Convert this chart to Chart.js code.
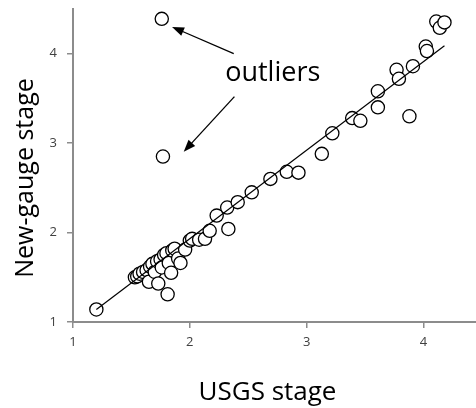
<!DOCTYPE html>
<html>
<head>
<meta charset="utf-8">
<style>
  html, body { margin: 0; padding: 0; background: #fff; }
</style>
<script src="https://cdn.jsdelivr.net/npm/chart.js@4.4.1/dist/chart.umd.min.js"></script>
</head>
<body>
<canvas id="stageChart" width="476" height="408"></canvas>
<script>
// readings: USGS stage vs new gauge stage
const usgsStage = [
  1.20, 1.53, 1.55, 1.57, 1.60, 1.63, 1.65, 1.66, 1.68, 1.70,
  1.72, 1.73, 1.75, 1.76, 1.78, 1.80, 1.81, 1.82, 1.84, 1.85,
  1.87, 1.90, 1.92, 1.96, 2.00, 2.02, 2.08, 2.13, 2.17, 2.23,
  2.32, 2.33, 2.41, 2.53, 2.69, 2.83, 2.93, 3.13, 3.22, 3.39,
  3.46, 3.61, 3.61, 3.77, 3.79, 3.88, 3.91, 4.02, 4.03, 4.11,
  4.14, 4.18, 1.76, 1.77
];
const newGaugeStage = [
  1.14, 1.50, 1.51, 1.54, 1.56, 1.58, 1.45, 1.62, 1.65, 1.56,
  1.68, 1.43, 1.70, 1.61, 1.75, 1.77, 1.31, 1.66, 1.55, 1.80,
  1.82, 1.71, 1.66, 1.81, 1.91, 1.93, 1.92, 1.93, 2.02, 2.19,
  2.28, 2.04, 2.34, 2.45, 2.60, 2.68, 2.67, 2.88, 3.11, 3.28,
  3.25, 3.58, 3.40, 3.82, 3.72, 3.30, 3.86, 4.08, 4.03, 4.36,
  4.29, 4.35, 4.39, 2.85
];

// fitted line end points
const fitX = [1.20, 4.18];
const fitY = [1.14, 4.09];

const xTicks = [1, 2, 3, 4];
const yTicks = [1, 2, 3, 4];

// "outliers" note, in data units
const noteText = "outliers";
const notePos = [2.71, 3.69];
const arrowFrom = [[2.376, 4.00], [2.382, 3.52]];
const arrowTo = [[1.848, 4.30], [1.948, 2.904]];

const axisGray = "#8c8c8c";
const font = "'Open Sans'";

const notesPlugin = {
  id: "notes",
  afterDraw(chart) {
    const { ctx, scales: { x, y } } = chart;
    ctx.save();
    ctx.fillStyle = "#000";
    ctx.strokeStyle = "#000";

    ctx.font = "27px " + font;
    ctx.textAlign = "center";
    ctx.textBaseline = "alphabetic";
    ctx.fillText(noteText, x.getPixelForValue(notePos[0]), y.getPixelForValue(notePos[1]));

    arrowFrom.forEach((from, i) => {
      const x0 = x.getPixelForValue(from[0]);
      const y0 = y.getPixelForValue(from[1]);
      const x1 = x.getPixelForValue(arrowTo[i][0]);
      const y1 = y.getPixelForValue(arrowTo[i][1]);
      const ang = Math.atan2(y1 - y0, x1 - x0);
      const c = Math.cos(ang), s = Math.sin(ang);
      ctx.lineWidth = 1.3;
      ctx.beginPath();
      ctx.moveTo(x0, y0);
      ctx.lineTo(x1 - 9 * c, y1 - 9 * s);
      ctx.stroke();
      ctx.beginPath();
      ctx.moveTo(x1, y1);
      ctx.lineTo(x1 - 12 * c + 4.5 * s, y1 - 12 * s - 4.5 * c);
      ctx.lineTo(x1 - 12 * c - 4.5 * s, y1 - 12 * s + 4.5 * c);
      ctx.closePath();
      ctx.fill();
    });

    // axis titles
    ctx.font = "26px " + font;
    ctx.fillText("USGS stage", 267.5, 400);
    ctx.font = "25px " + font;
    ctx.translate(33, 178);
    ctx.rotate(-Math.PI / 2);
    ctx.fillText("New-gauge stage", 0, 0);
    ctx.restore();
  }
};

const axisStyle = {
  type: "linear",
  grid: { drawOnChartArea: false, drawTicks: true, tickLength: 6, color: axisGray, lineWidth: 1.5 },
  border: { color: axisGray, width: 2 },
  ticks: { color: "#404040", font: { family: "Open Sans", size: 13 }, maxRotation: 0 }
};

new Chart(document.getElementById("stageChart"), {
  type: "scatter",
  data: {
    datasets: [
      {
        type: "line",
        data: fitX.map((v, i) => ({ x: v, y: fitY[i] })),
        borderColor: "#000",
        borderWidth: 1.2,
        pointRadius: 0,
        fill: false,
        order: 0
      },
      {
        data: usgsStage.map((v, i) => ({ x: v, y: newGaugeStage[i] })),
        pointRadius: 6.6,
        pointBorderWidth: 1.3,
        pointBorderColor: "#000",
        pointBackgroundColor: "#fff",
        order: 1
      }
    ]
  },
  options: {
    responsive: false,
    animation: false,
    devicePixelRatio: 1,
    layout: { autoPadding: false, padding: { top: 9, right: 0, left: 0, bottom: 0 } },
    plugins: { legend: { display: false }, tooltip: { enabled: false } },
    scales: {
      x: {
        ...axisStyle,
        min: 1,
        max: 4.45,
        ticks: { ...axisStyle.ticks, padding: 6 },
        afterBuildTicks: axis => { axis.ticks = xTicks.map(v => ({ value: v })); },
        afterFit: scale => { scale.height = 86; scale.paddingLeft = 0; scale.paddingRight = 0; }
      },
      y: {
        ...axisStyle,
        min: 1,
        max: 4.5,
        ticks: { ...axisStyle.ticks, padding: 10 },
        afterBuildTicks: axis => { axis.ticks = yTicks.map(v => ({ value: v })); },
        afterFit: scale => { scale.width = 73; scale.paddingTop = 0; scale.paddingBottom = 0; }
      }
    }
  },
  plugins: [notesPlugin]
});
</script>
</body>
</html>
